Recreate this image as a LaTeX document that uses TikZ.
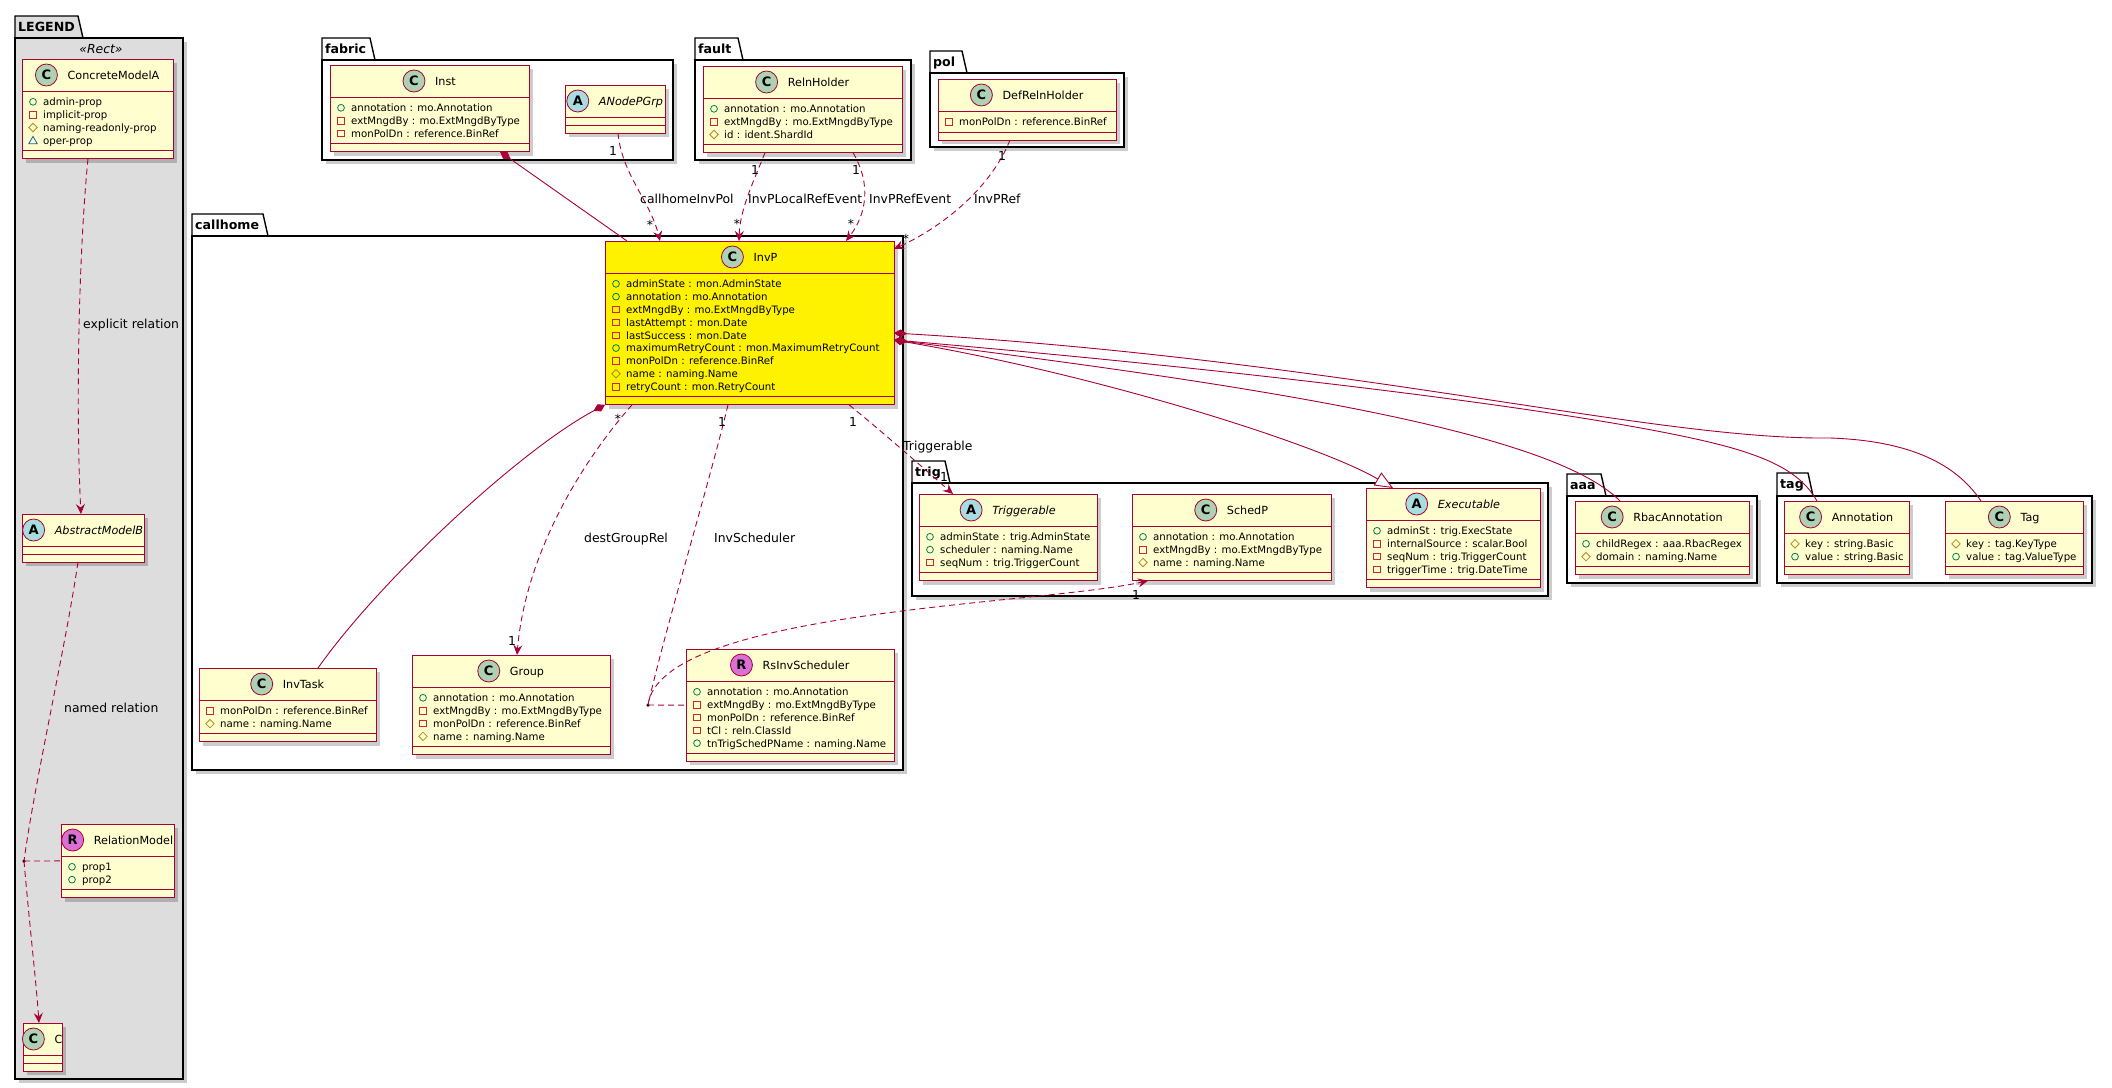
\documentclass[tikz,border=0pt]{standalone}
\usepackage{fontspec}
\setmainfont{DejaVu Sans}
\usetikzlibrary{arrows.meta,calc}
\definecolor{bord}{HTML}{A80036}
\definecolor{cfill}{HTML}{FEFECE}
\definecolor{icC}{HTML}{ADD1B2}
\definecolor{icA}{HTML}{A9DCDF}
\definecolor{icR}{HTML}{DA70D6}
\definecolor{vpub}{HTML}{038048}
\definecolor{vpriv}{HTML}{C82930}
\definecolor{vprot}{HTML}{B38D22}
\definecolor{vpkg}{HTML}{1963A0}
\definecolor{legfill}{HTML}{DDDDDD}
\tikzset{
  boxst/.style={draw=bord, line width=1pt, inner sep=0pt, outer sep=0pt, rectangle},
  boxline/.style={draw=bord, line width=1pt},
  shadowc/.style={fill=black, opacity=0.2},
  titlest/.style={inner sep=0pt, font=\fontsize{11.2}{13}\selectfont},
  iconst/.style={circle, draw=bord, line width=0.8pt, minimum size=22pt, inner sep=0pt, font=\fontsize{13}{13}\selectfont\bfseries},
  attrst/.style={inner sep=0pt, font=\fontsize{10.2}{12}\selectfont},
  pkgline/.style={draw=black, line width=1.4pt},
  pkgname/.style={inner sep=0pt, font=\fontsize{12.6}{14}\selectfont\bfseries},
  lbl/.style={inner sep=0pt, font=\fontsize{12.4}{14}\selectfont},
  mult/.style={inner sep=0pt, font=\fontsize{12.4}{14}\selectfont},
  rel/.style={draw=bord, line width=0.9pt},
  dep/.style={rel, dash pattern=on 6pt off 4pt},
  tipA/.style={-{Stealth[length=10pt, width=9pt, inset=3.5pt, bord]}},
  compo/.style={{Diamond[length=13pt, width=8pt, bord]}-},
  dotst/.style={circle, fill=black, inner sep=0pt, minimum size=3.5pt},
}
\newcommand\umliconp[1]{\draw[draw=vpub, line width=0.8pt] #1 circle (3.4pt);}
\newcommand\umlicons[1]{\draw[draw=vpriv, line width=0.8pt, shift={#1}] (-3.3,-3.3) rectangle (3.3,3.3);}
\newcommand\umlicond[1]{\draw[draw=vprot, line width=0.8pt, shift={#1}] (0,-4.2) -- (4.2,0) -- (0,4.2) -- (-4.2,0) -- cycle;}
\newcommand\umlicont[1]{\draw[draw=vpkg, line width=0.8pt, shift={#1}] (0,-4) -- (4.2,3.3) -- (-4.2,3.3) -- cycle;}
% #1 id, #2 x1, #3 y1, #4 x2, #5 rows, #6 fill, #7 icon letter, #8 title, #9 attributes
\newcommand\umlclass[9]{%
  \pgfmathsetmacro\cya{#3+32}%
  \pgfmathsetmacro\cyb{(#5>0) ? (\cya+21+(#5-1)*12.85) : (\cya+8)}%
  \pgfmathsetmacro\cyc{\cyb+8}%
  \fill[shadowc] (#2+4,#3+4) rectangle (#4+4,\cyc+4);
  \node[boxst, fill=#6, anchor=north west, minimum width={(#4-#2)*1pt}, minimum height={(\cyc-#3)*1pt}] (#1) at (#2,#3) {};
  \draw[boxline] (#2,\cya) -- (#4,\cya) (#2,\cyb) -- (#4,\cyb);
  \node[titlest, anchor=base] (#1-t) at ({(#2+#4)/2}, #3+20) {\hspace*{32pt}#8};
  \node[iconst, fill=ic#7] (#1-i) at ($(#1-t.base west)+(11,-4)$) {#7};
  \ifnum#5>0
  \foreach \ty/\tx [count=\k from 0] in {#9} {
    \pgfmathsetmacro\ry{\cya+10.8+\k*12.85}
    \csname umlicon\ty\endcsname{(#2+11,\ry)}
    \node[attrst, anchor=base west] (#1-a\k) at (#2+21,\ry+3.8) {\tx};
  }
  \fi
}
% #1 id, #2 x1, #3 y tab, #4 tab right, #5 y body, #6 x2, #7 y2, #8 name, #9 fill
\newcommand\umlpkg[9]{%
  \fill[shadowc] (#2+4,#5+4) rectangle (#6+4,#7+4);
  \filldraw[pkgline, fill=#9] (#2,#5) -- (#2,#3) -- (#4,#3) -- (#4+5,#5) -- cycle;
  \node[pkgline, fill=#9, inner sep=0pt, outer sep=0pt, anchor=north west, minimum width={(#6-#2)*1pt}, minimum height={(#7-#5)*1pt}] (#1) at (#2,#5) {};
  \node[pkgname, anchor=base west] (#1-n) at (#2+3, #3+15.8) {#8};
}
\begin{document}
\begin{tikzpicture}[x=1pt, y=-1pt]
\fill[white] (0,0) rectangle (2112,1087);
\useasboundingbox (0,0) rectangle (2112,1087);

% packages
\umlpkg{legend}{15}{16}{78}{38}{183}{1079}{LEGEND}{legfill}
\umlpkg{fabric}{322}{38}{370}{60}{673}{160}{fabric}{white}
\umlpkg{fault}{695}{38}{738}{60}{911}{160}{fault}{white}
\umlpkg{pol}{930}{51}{962}{73}{1124}{147}{pol}{white}
\umlpkg{callhome}{192}{214}{263}{236}{903}{770}{callhome}{white}
\umlpkg{trig}{912}{461}{945}{483}{1548}{596}{trig}{white}
\umlpkg{aaa}{1567}{474}{1601}{496}{1757}{583}{aaa}{white}
\umlpkg{tag}{1777}{473}{1808}{496}{2092}{583}{tag}{white}
\node[lbl, anchor=base] (stereo) at (101,53) {\textit{«Rect»}};

% classes
\umlclass{cma}{22}{59}{173}{4}{cfill}{C}{ConcreteModelA}{p/admin-prop,s/implicit-prop,d/naming-readonly-prop,t/oper-prop}
\umlclass{amb}{22}{514}{144}{0}{cfill}{A}{\textit{AbstractModelB}}{}
\umlclass{relm}{61}{824}{174}{2}{cfill}{R}{RelationModel}{p/prop1,p/prop2}
\umlclass{cc}{23}{1023}{62}{0}{cfill}{C}{C}{}
\umlclass{inst}{330}{65}{529}{3}{cfill}{C}{Inst}{p/annotation : mo.Annotation,s/extMngdBy : mo.ExtMngdByType,s/monPolDn : reference.BinRef}
\umlclass{anode}{565}{85}{665}{0}{cfill}{A}{\textit{ANodePGrp}}{}
\umlclass{reln}{703}{66}{902}{3}{cfill}{C}{RelnHolder}{p/annotation : mo.Annotation,s/extMngdBy : mo.ExtMngdByType,d/id : ident.ShardId}
\umlclass{defreln}{938}{79}{1116}{1}{cfill}{C}{DefRelnHolder}{s/monPolDn : reference.BinRef}
\umlclass{invp}{605}{241}{894}{9}{yellow}{C}{InvP}{p/adminState : mon.AdminState,p/annotation : mo.Annotation,s/extMngdBy : mo.ExtMngdByType,s/lastAttempt : mon.Date,s/lastSuccess : mon.Date,p/maximumRetryCount : mon.MaximumRetryCount,s/monPolDn : reference.BinRef,d/name : naming.Name,s/retryCount : mon.RetryCount}
\umlclass{invtask}{199}{668}{376}{2}{cfill}{C}{InvTask}{s/monPolDn : reference.BinRef,d/name : naming.Name}
\umlclass{group}{412}{655}{610}{4}{cfill}{C}{Group}{p/annotation : mo.Annotation,s/extMngdBy : mo.ExtMngdByType,s/monPolDn : reference.BinRef,d/name : naming.Name}
\umlclass{rsinv}{686}{649}{894}{5}{cfill}{R}{RsInvScheduler}{p/annotation : mo.Annotation,s/extMngdBy : mo.ExtMngdByType,s/monPolDn : reference.BinRef,s/tCl : reln.ClassId,p/tnTrigSchedPName : naming.Name}
\umlclass{trigb}{919}{494}{1097}{3}{cfill}{A}{\textit{Triggerable}}{p/adminState : trig.AdminState,p/scheduler : naming.Name,s/seqNum : trig.TriggerCount}
\umlclass{schedp}{1132}{494}{1331}{3}{cfill}{C}{SchedP}{p/annotation : mo.Annotation,s/extMngdBy : mo.ExtMngdByType,d/name : naming.Name}
\umlclass{exec}{1366}{488}{1540}{4}{cfill}{A}{\textit{Executable}}{p/adminSt : trig.ExecState,s/internalSource : scalar.Bool,s/seqNum : trig.TriggerCount,s/triggerTime : trig.DateTime}
\umlclass{rbac}{1575}{501}{1749}{2}{cfill}{C}{RbacAnnotation}{p/childRegex : aaa.RbacRegex,d/domain : naming.Name}
\umlclass{annot}{1784}{501}{1909}{2}{cfill}{C}{Annotation}{d/key : string.Basic,p/value : string.Basic}
\umlclass{tagc}{1945}{501}{2083}{2}{cfill}{C}{Tag}{d/key : tag.KeyType,p/value : tag.ValueType}

% LEGEND connectors
\draw[dep, tipA] ([xshift=66pt]cma.south west) .. controls (78,260) and (76,420) .. ([xshift=59pt]amb.north west);
\node[lbl, anchor=base west] (lexp) at (83,328) {explicit relation};
\node[dotst] (dot2) at (24,861) {};
\draw[dep] ([xshift=56pt]amb.south west) .. controls (65,650) and (35,780) .. (dot2.center);
\node[lbl, anchor=base west] (lnamed) at (64,712) {named relation};
\draw[dep] (dot2.center) -- (relm.west);
\draw[dep, tipA] (dot2.center) .. controls (30,930) and (36,980) .. ([xshift=16pt]cc.north west);

% fabric
\draw[rel, compo] ([xshift=170pt]inst.south west) -- ([xshift=22pt]invp.north west);
\draw[dep, tipA] ([xshift=53pt]anode.south west) .. controls (622,175) and (650,200) .. ([xshift=55pt]invp.north west);
\node[mult, anchor=base] (m1) at (613,155) {1};
\node[lbl, anchor=base west] (l1) at (640,203) {callhomeInvPol};
\node[mult] (m2) at (650,225) {*};

% fault
\draw[dep, tipA] ([xshift=62pt]reln.south west) .. controls (752,185) and (740,210) .. ([xshift=134pt]invp.north west);
\node[mult, anchor=base] (m3) at (755,174) {1};
\node[mult] (m4) at (737,224) {*};
\node[lbl, anchor=base west] (l2) at (748,203) {InvPLocalRefEvent};
\draw[dep, tipA] ([xshift=150pt]reln.south west) .. controls (872,185) and (866,215) .. ([xshift=241pt]invp.north west);
\node[mult, anchor=base] (m5) at (856,174) {1};
\node[mult] (m6) at (851,224) {*};
\node[lbl, anchor=base west] (l3) at (869,203) {InvPRefEvent};

% pol
\draw[dep, tipA] ([xshift=72pt]defreln.south west) .. controls (990,190) and (940,228) .. ([yshift=-8pt]invp.north east);
\node[mult, anchor=base] (m7) at (1002,160) {1};
\node[mult] (m8) at (906,239) {*};
\node[lbl, anchor=base west] (l4) at (974,203) {InvPRef};

% callhome internal
\draw[rel, compo] (invp.south west) .. controls (520,450) and (380,580) .. ([xshift=119pt]invtask.north west);
\draw[dep, tipA] ([xshift=27pt]invp.south west) .. controls (575,470) and (525,560) .. ([xshift=105pt]group.north west);
\node[mult] (m9) at (618,419) {*};
\node[mult, anchor=base] (m10) at (512,645) {1};
\node[lbl, anchor=base west] (l5) at (584,542) {destGroupRel};
\node[dotst] (dot1) at (648,705) {};
\draw[dep] ([xshift=123pt]invp.south west) .. controls (710,480) and (665,630) .. (dot1.center);
\node[mult, anchor=base] (m11) at (722,426) {1};
\node[lbl, anchor=base west] (l6) at (714,542) {InvScheduler};
\draw[dep] (dot1.center) -- (rsinv.west);
\draw[dep, tipA] (dot1.center) .. controls (660,610) and (1040,605) .. ([xshift=16pt]schedp.south west);
\node[mult, anchor=base] (m12) at (1136,599) {1};
\draw[dep, tipA] ([xshift=244pt]invp.south west) .. controls (880,430) and (920,465) .. ([xshift=34pt]trigb.north west);
\node[mult, anchor=base] (m13) at (853,426) {1};
\node[mult, anchor=base] (m14) at (944,481) {1};
\node[lbl, anchor=base west] (l7) at (903,450) {Triggerable};

% right side
\draw[rel, {Diamond[length=13pt, width=8pt, bord]}-{Triangle[length=18pt, width=15pt, fill=white]}] ([yshift=-99pt]invp.north east) .. controls (1100,375) and (1320,445) .. ([xshift=27pt]exec.north west);
\draw[rel, compo] ([yshift=-99pt]invp.north east) .. controls (1250,385) and (1550,430) .. ([xshift=45pt]rbac.north west);
\draw[rel, compo] ([yshift=-99pt]invp.north east) .. controls (1300,375) and (1650,420) .. (1745,452) .. controls (1785,465) and (1805,480) .. ([xshift=33pt]annot.north west);
\draw[rel, compo] ([yshift=-92pt]invp.north east) .. controls (1350,360) and (1650,440) .. (1830,438) .. controls (1920,441) and (1960,470) .. ([xshift=36pt]tagc.north west);
\end{tikzpicture}
\end{document}
